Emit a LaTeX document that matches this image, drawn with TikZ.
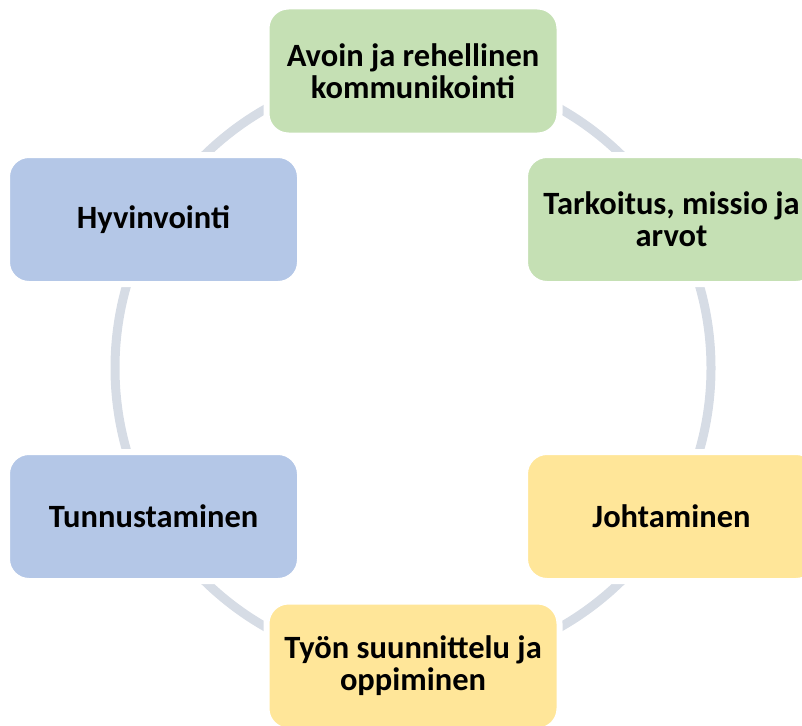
\documentclass[tikz,border=0pt]{standalone}
\usepackage{fontspec}
\setmainfont{Carlito}
\definecolor{ringgray}{HTML}{D6DCE5}
\definecolor{boxgreen}{HTML}{C5E0B4}
\definecolor{boxblue}{HTML}{B4C7E7}
\definecolor{boxyellow}{HTML}{FFE699}
\tikzset{
  ring/.style={draw=ringgray, line width=9pt},
  cyclebox/.style={rectangle, rounded corners=22pt, minimum width=293pt, minimum height=129pt,
    draw=white, line width=6pt, align=center, text=black,
    font=\fontsize{32.5}{32}\selectfont\bfseries, inner sep=0pt}
}
\begin{document}
\begin{tikzpicture}[x=1pt,y=-1pt]
  \useasboundingbox (0,0) rectangle (802,725);
  \begin{scope}
    \clip (0,0) rectangle (802,725);
    % ring behind the boxes
    \coordinate (c) at (413,368);
    \draw[ring] (c) circle (298);
    % boxes placed around the ring
    \node[cyclebox, fill=boxgreen]  (avoin)   at (413,71)    {Avoin ja rehellinen\\kommunikointi};
    \node[cyclebox, fill=boxgreen]  (tark)    at (671.5,219.5) {Tarkoitus, missio ja\\arvot};
    \node[cyclebox, fill=boxyellow] (johta)   at (671.5,516.5) {Johtaminen};
    \node[cyclebox, fill=boxyellow] (tyon)    at (413,666)   {Työn suunnittelu ja\\oppiminen};
    \node[cyclebox, fill=boxblue]   (tunnus)  at (153.5,516.5) {Tunnustaminen};
    \node[cyclebox, fill=boxblue]   (hyvin)   at (153.5,219.5) {Hyvinvointi};
  \end{scope}
\end{tikzpicture}
\end{document}
